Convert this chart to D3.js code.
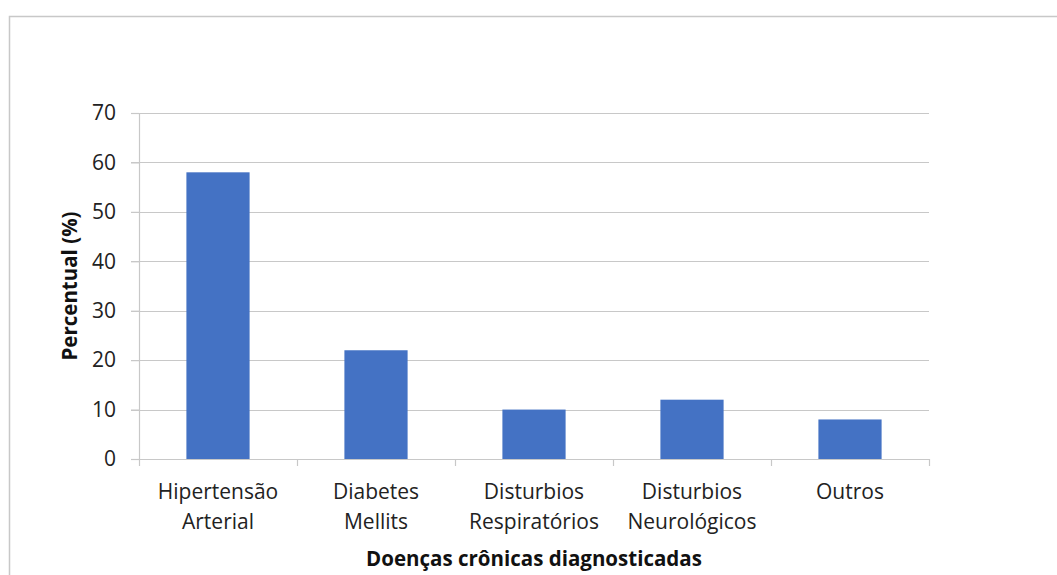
<!DOCTYPE html>
<html>
<head>
<meta charset="utf-8">
<script src="https://cdn.jsdelivr.net/npm/d3@7"></script>
<style>
  html, body { margin: 0; padding: 0; background: #fff; }
  svg { display: block; font-family: "Open Sans", "Noto Sans", sans-serif; }
</style>
</head>
<body>
<svg id="chart" width="1057" height="575"></svg>
<script>
// Chronic disease prevalence (%)
const categories = [
  ["Hipertensão", "Arterial"],
  ["Diabetes", "Mellits"],
  ["Disturbios", "Respiratórios"],
  ["Disturbios", "Neurológicos"],
  ["Outros"]
];
const values = [58, 22, 10, 12, 8];
const yTicks = [0, 10, 20, 30, 40, 50, 60, 70];
const yTitle = "Percentual (%)";
const xTitle = "Doenças crônicas diagnosticadas";

const svg = d3.select("#chart");
const margin = { left: 139, right: 1057 - 929, top: 113, bottom: 575 - 459 };
const plotW = 1057 - margin.left - margin.right;
const plotH = 575 - margin.top - margin.bottom;

// outer chart frame
svg.append("rect")
  .attr("x", 9.5).attr("y", 16.5)
  .attr("width", 1100).attr("height", 700)
  .attr("fill", "none").attr("stroke", "#c8c8c8").attr("stroke-width", 1.5);

const g = svg.append("g").attr("transform", `translate(${margin.left},${margin.top})`);

const keys = categories.map(c => c.join(" "));
const x = d3.scaleBand().domain(keys).range([0, plotW]).paddingInner(0.6).paddingOuter(0.3);
const xOuter = d3.scaleBand().domain(keys).range([0, plotW]);
const y = d3.scaleLinear().domain([0, 70]).range([plotH, 0]);

// horizontal gridlines
g.append("g").selectAll("line").data(yTicks.filter(t => t > 0)).join("line")
  .attr("x1", -8).attr("x2", plotW)
  .attr("y1", d => Math.round(y(d)) + 0.5).attr("y2", d => Math.round(y(d)) + 0.5)
  .attr("stroke", "#c8c8c8").attr("stroke-width", 1.2);

// y axis
const yAxis = g.append("g")
  .call(d3.axisLeft(y).tickValues(yTicks).tickSize(8).tickPadding(15));
yAxis.select(".domain").attr("stroke", "#c8c8c8").attr("stroke-width", 1.2);
yAxis.selectAll(".tick line").attr("stroke", "#c8c8c8").attr("stroke-width", 1.2);
yAxis.selectAll("text").attr("font-size", 21).attr("fill", "#222")
  .attr("font-family", "'Open Sans', sans-serif");

// bars
g.append("g").selectAll("rect").data(values).join("rect")
  .attr("x", (d, i) => x(keys[i]))
  .attr("y", d => y(d))
  .attr("width", x.bandwidth())
  .attr("height", d => plotH - y(d))
  .attr("fill", "#4472c4");

// x axis baseline and category separators
g.append("line")
  .attr("x1", 0).attr("x2", plotW)
  .attr("y1", plotH + 0.5).attr("y2", plotH + 0.5)
  .attr("stroke", "#c8c8c8").attr("stroke-width", 1.2);
const sep = [0, ...keys.map(k => xOuter(k) + xOuter.bandwidth())];
g.append("g").selectAll("line").data(sep).join("line")
  .attr("x1", d => Math.round(d) + 0.5).attr("x2", d => Math.round(d) + 0.5)
  .attr("y1", plotH).attr("y2", plotH + 7)
  .attr("stroke", "#c8c8c8").attr("stroke-width", 1.2);

// category labels
const labels = g.append("g").selectAll("text").data(categories).join("text")
  .attr("x", (d, i) => xOuter(keys[i]) + xOuter.bandwidth() / 2)
  .attr("y", plotH + 40)
  .attr("text-anchor", "middle")
  .attr("font-size", 21).attr("fill", "#222");
labels.selectAll("tspan").data(d => d).join("tspan")
  .attr("x", function () { return d3.select(this.parentNode).attr("x"); })
  .attr("dy", (d, i) => i === 0 ? 0 : 30)
  .text(d => d);

// axis titles
svg.append("text")
  .attr("x", margin.left + plotW / 2).attr("y", 566)
  .attr("text-anchor", "middle")
  .attr("font-size", 20.5).attr("font-weight", "bold").attr("fill", "#111")
  .text(xTitle);

svg.append("text")
  .attr("transform", `translate(77,${margin.top + plotH / 2}) rotate(-90)`)
  .attr("text-anchor", "middle")
  .attr("font-size", 20.5).attr("font-weight", "bold").attr("fill", "#111")
  .text(yTitle);
</script>
</body>
</html>
